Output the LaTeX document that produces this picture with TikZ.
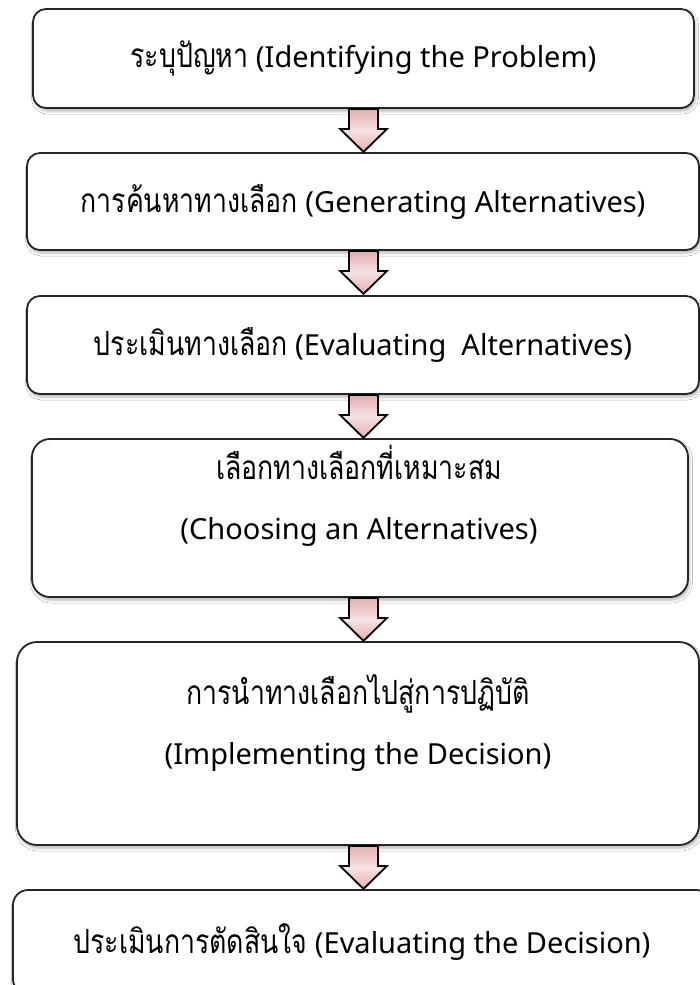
\documentclass[tikz,border=0pt]{standalone}
\usepackage{fontspec}
\setmainfont{Noto Sans}
\newfontfamily\thaifont[Script=Thai,Scale=1.15,FakeStretch=0.8]{Loma}
\usetikzlibrary{shadows.blur,calc}

\definecolor{arrowpink}{HTML}{E2ADAF}
\definecolor{arrowlight}{HTML}{F6E3E3}

\tikzset{
  stepbox/.style={draw=black!85, line width=1.8pt, fill=white,
    rounded corners=#1, inner sep=0pt,
    blur shadow={shadow xshift=1.5pt, shadow yshift=-3pt,
      shadow blur radius=3pt, shadow opacity=30}},
  steptext/.style={font=\fontsize{29}{60}\selectfont, align=center, inner sep=0pt},
  blockarrow/.style={draw=black, line width=1.8pt, line join=miter,
    top color=arrowpink, bottom color=arrowpink, middle color=arrowlight}
}

\begin{document}
\begin{tikzpicture}[x=1pt,y=-1pt]
  \useasboundingbox (0,0) rectangle (700,985);
  \clip (0,0) rectangle (700,985);
  \fill[white] (0,0) rectangle (700,985);

  \coordinate (axis) at (363.5,0);

  % process boxes
  \node[stepbox=13pt, minimum width=661pt, minimum height=99pt]  (b1) at (363.5,58.5) {};
  \node[stepbox=13pt, minimum width=672pt, minimum height=97pt]  (b2) at (363,201.5) {};
  \node[stepbox=13pt, minimum width=672pt, minimum height=98pt]  (b3) at (363,345) {};
  \node[stepbox=18pt, minimum width=656pt, minimum height=158pt] (b4) at (360,518) {};
  \node[stepbox=20pt, minimum width=682pt, minimum height=203pt] (b5) at (358,743.5) {};
  \node[stepbox=15pt, minimum width=698pt, minimum height=104pt] (b6) at (362,942) {};

  % labels
  \node[steptext] (t1) at (b1.center) {{\thaifont ระบุปัญหา} (Identifying the Problem)};
  \node[steptext] (t2) at (b2.center) {{\thaifont การค้นหาทางเลือก} (Generating Alternatives)};
  \node[steptext] (t3) at (b3.center) {{\thaifont ประเมินทางเลือก} (Evaluating~ Alternatives)};
  \node[steptext] (t4) at (359,495.5) {{\thaifont เลือกทางเลือกที่เหมาะสม}\\(Choosing an Alternatives)};
  \node[steptext] (t5) at (358,722.5) {{\thaifont การนำทางเลือกไปสู่การปฏิบัติ}\\(Implementing the Decision)};
  \node[steptext] (t6) at (b6.center) {{\thaifont ประเมินการตัดสินใจ} (Evaluating the Decision)};

  % block arrows between consecutive steps
  \foreach \up/\down in {b1/b2,b2/b3,b3/b4,b4/b5,b5/b6}{
    \begin{scope}[shift={(\up.south -| axis)}]
      \draw[blockarrow] (-14.5,0) -- (-14.5,20) -- (-23.5,20) -- (0,43)
        -- (23.5,20) -- (14.5,20) -- (14.5,0) -- cycle;
    \end{scope}
  }
\end{tikzpicture}
\end{document}
